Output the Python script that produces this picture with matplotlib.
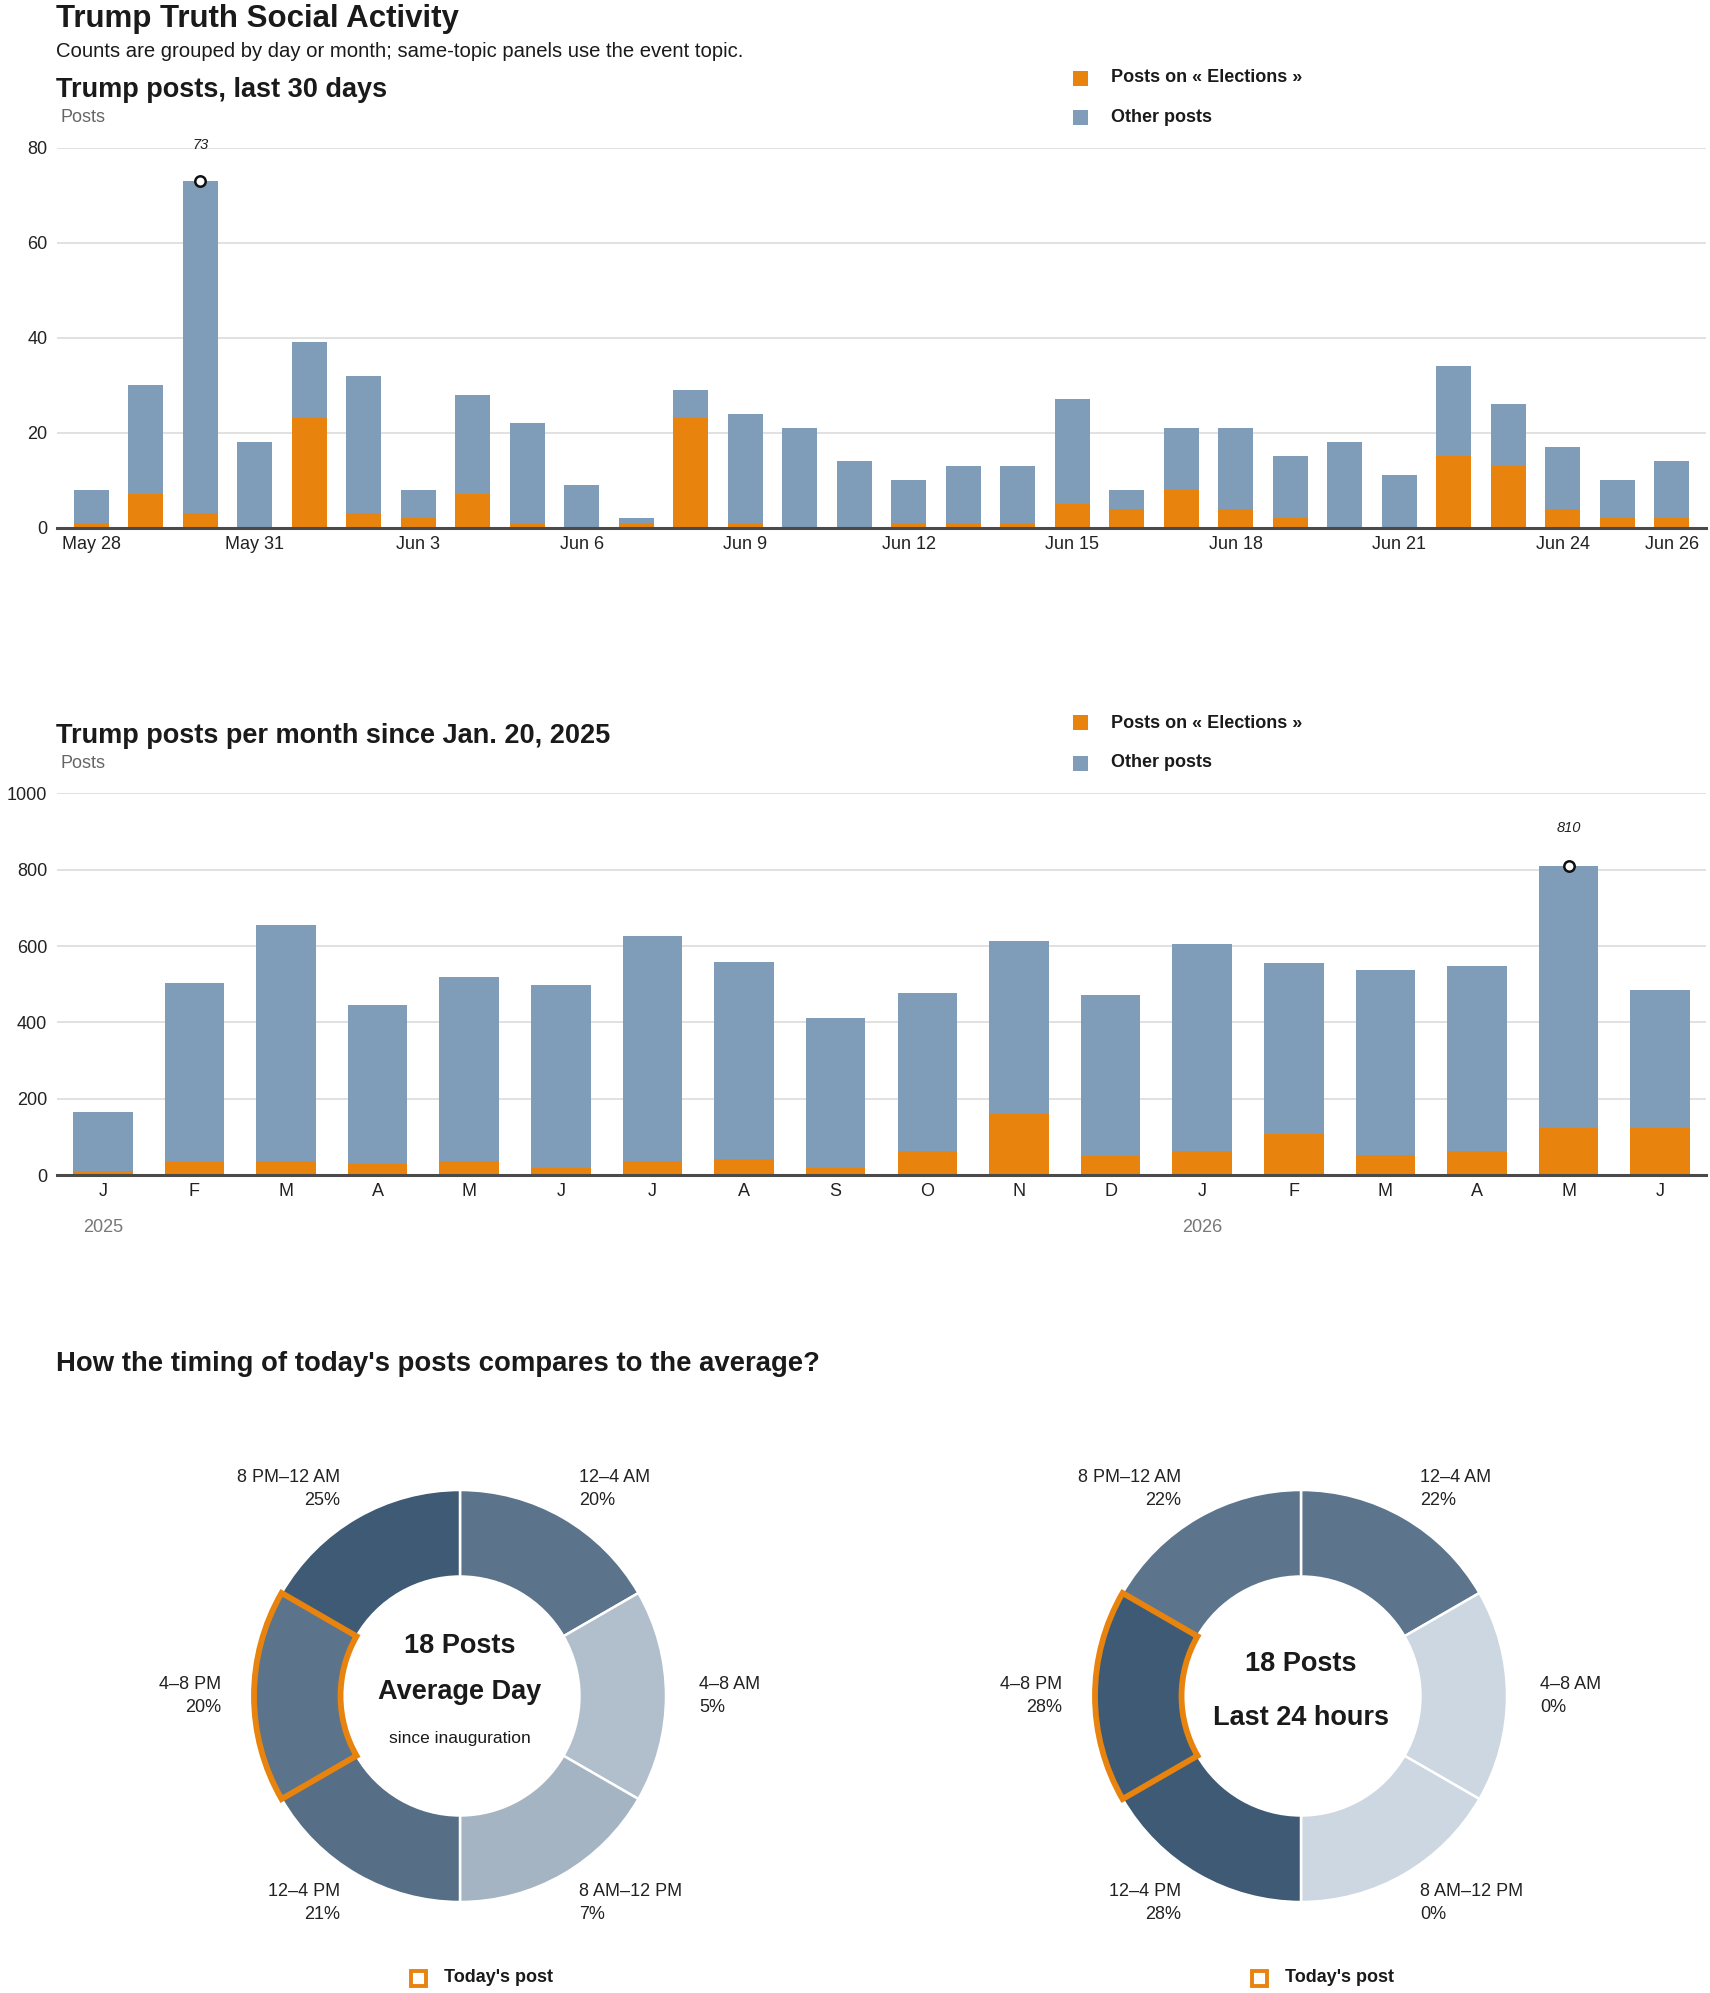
import matplotlib
matplotlib.use('Agg')
import matplotlib.pyplot as plt
from matplotlib.patches import Rectangle, Wedge
import numpy as np

plt.rcParams['font.family'] = ['Liberation Sans', 'DejaVu Sans']

# ---------------- data ----------------
day_labels = ['May 28', 'May 29', 'May 30', 'May 31', 'Jun 1', 'Jun 2', 'Jun 3', 'Jun 4',
              'Jun 5', 'Jun 6', 'Jun 7', 'Jun 8', 'Jun 9', 'Jun 10', 'Jun 11', 'Jun 12',
              'Jun 13', 'Jun 14', 'Jun 15', 'Jun 16', 'Jun 17', 'Jun 18', 'Jun 19', 'Jun 20',
              'Jun 21', 'Jun 22', 'Jun 23', 'Jun 24', 'Jun 25', 'Jun 26']
day_total = [8, 30, 73, 18, 39, 32, 8, 28, 22, 9, 2, 29, 24, 21, 14,
             10, 13, 13, 27, 8, 21, 21, 15, 18, 11, 34, 26, 17, 10, 14]
day_election = [1, 7, 3, 0, 23, 3, 2, 7, 1, 0, 1, 23, 1, 0, 0,
                1, 1, 1, 5, 4, 8, 4, 2, 0, 0, 15, 13, 4, 2, 2]
day_tick_labels = ['May 28', 'May 31', 'Jun 3', 'Jun 6', 'Jun 9', 'Jun 12',
                   'Jun 15', 'Jun 18', 'Jun 21', 'Jun 24', 'Jun 26']

month_labels = ['J', 'F', 'M', 'A', 'M', 'J', 'J', 'A', 'S', 'O', 'N', 'D',
                'J', 'F', 'M', 'A', 'M', 'J']
month_total = [165, 504, 654, 446, 519, 498, 627, 559, 411, 478, 612, 472,
               606, 556, 538, 549, 810, 485]
month_election = [10, 34, 36, 28, 36, 18, 36, 42, 18, 62, 161, 49,
                  62, 108, 53, 62, 123, 123]
year_labels = ['2025', '2026']
year_start_index = [0, 12]

slot_labels = ['12–4 AM', '4–8 AM', '8 AM–12 PM', '12–4 PM', '4–8 PM', '8 PM–12 AM']
slot_hours = [4, 4, 4, 4, 4, 4]
avg_pct = [20, 5, 7, 21, 20, 25]
last24_pct = [22, 0, 0, 28, 28, 22]
today_slot = '4–8 PM'
posts_count = 18

# ---------------- style ----------------
ORANGE = '#e8830e'
BLUE = '#7f9db9'
DARK = '#1a1a1a'
GRID = '#dcdcdc'
W, H = 1710, 1993

fig = plt.figure(figsize=(W / 100, H / 100), dpi=100)
fig.patch.set_facecolor('white')


def fx(x):
    return x / W


def fy(y):
    return 1 - y / H


def ftext(x, y, s, **kw):
    fig.text(fx(x), fy(y), s, **kw)


def fsquare(cx, cy, size, **kw):
    r = Rectangle((fx(cx - size / 2), fy(cy + size / 2)), size / W, size / H,
                  transform=fig.transFigure, **kw)
    fig.add_artist(r)


# ---------------- header ----------------
ftext(56, 27, 'Trump Truth Social Activity', fontsize=22.5, fontweight='bold',
      color=DARK, va='baseline')
ftext(56, 57, 'Counts are grouped by day or month; same-topic panels use the event topic.',
      fontsize=14.6, color=DARK, va='baseline')


def legend(y1, y2):
    fsquare(1080, y1, 15, facecolor=ORANGE, edgecolor='none')
    fsquare(1080, y2, 15, facecolor=BLUE, edgecolor='none')
    ftext(1111, y1, 'Posts on « Elections »', fontsize=13, fontweight='bold',
          color=DARK, va='center')
    ftext(1111, y2, 'Other posts', fontsize=13, fontweight='bold', color=DARK, va='center')


def style_bar_axes(ax):
    for s in ['top', 'right', 'left']:
        ax.spines[s].set_visible(False)
    ax.spines['bottom'].set_color('#4a4a4a')
    ax.spines['bottom'].set_linewidth(2.2)
    ax.spines['bottom'].set_zorder(4)
    ax.yaxis.grid(True, color=GRID, linewidth=1.2)
    ax.set_axisbelow(True)
    ax.tick_params(axis='both', length=0, labelsize=13, labelcolor='#222222')
    ax.tick_params(axis='y', pad=7)
    ax.tick_params(axis='x', pad=6)


# ---------------- chart 1: last 30 days ----------------
ftext(56, 97, 'Trump posts, last 30 days', fontsize=19.5, fontweight='bold',
      color=DARK, va='baseline')
ftext(60, 122, 'Posts', fontsize=13, color='#666666', va='baseline')
legend(78, 117)

ax1 = fig.add_axes([fx(57), fy(527.6), 1649 / W, 380.1 / H])
x1 = np.arange(len(day_labels))
other1 = np.array(day_total) - np.array(day_election)
ax1.bar(x1, day_election, width=0.64, color=ORANGE, zorder=2)
ax1.bar(x1, other1, width=0.64, bottom=day_election, color=BLUE, zorder=2)
ax1.set_ylim(0, 80)
ax1.set_xlim(-0.63, len(day_labels) - 1 + 0.63)
ax1.set_yticks([0, 20, 40, 60, 80])
ax1.set_xticks([day_labels.index(d) for d in day_tick_labels])
ax1.set_xticklabels(day_tick_labels)
style_bar_axes(ax1)
pk = int(np.argmax(day_total))
ax1.plot([pk], [day_total[pk]], 'o', ms=7.5, mfc='white', mec='#111111', mew=1.8,
         zorder=5, clip_on=False)
ax1.annotate(str(day_total[pk]), (pk, day_total[pk]), xytext=(0, 26),
             textcoords='offset points', ha='center', va='center', fontsize=10.5,
             style='italic', color='#222222', annotation_clip=False)

# ---------------- chart 2: per month ----------------
ftext(56, 743, 'Trump posts per month since Jan. 20, 2025', fontsize=19.5,
      fontweight='bold', color=DARK, va='baseline')
ftext(60, 768, 'Posts', fontsize=13, color='#666666', va='baseline')
legend(723, 763)

ax2 = fig.add_axes([fx(57), fy(1175), 1649 / W, 381.6 / H])
x2 = np.arange(len(month_labels))
other2 = np.array(month_total) - np.array(month_election)
ax2.bar(x2, month_election, width=0.65, color=ORANGE, zorder=2)
ax2.bar(x2, other2, width=0.65, bottom=month_election, color=BLUE, zorder=2)
ax2.set_ylim(0, 1000)
ax2.set_xlim(-0.5, len(month_labels) - 0.5)
ax2.set_yticks([0, 200, 400, 600, 800, 1000])
ax2.set_xticks(x2)
ax2.set_xticklabels(month_labels)
style_bar_axes(ax2)
for lbl, idx in zip(year_labels, year_start_index):
    ax2.annotate(lbl, (idx, 0), xytext=(0, -38), textcoords='offset points',
                 ha='center', va='center', fontsize=13, color='#777777',
                 annotation_clip=False)
pk2 = int(np.argmax(month_total))
ax2.plot([pk2], [month_total[pk2]], 'o', ms=7.5, mfc='white', mec='#111111', mew=1.8,
         zorder=5, clip_on=False)
ax2.annotate(str(month_total[pk2]), (pk2, month_total[pk2]), xytext=(0, 27),
             textcoords='offset points', ha='center', va='center', fontsize=10.5,
             style='italic', color='#222222', annotation_clip=False)

# ---------------- donuts ----------------
ftext(56, 1371, "How the timing of today's posts compares to the average?",
      fontsize=19.8, fontweight='bold', color=DARK, va='baseline')

LIGHT = np.array([205, 215, 225]) / 255
DEEP = np.array([63, 90, 117]) / 255
R = 206.0
BOX = 280.0


def shade(p, pmax):
    t = p / pmax if pmax else 0
    return tuple(LIGHT + t * (DEEP - LIGHT))


def donut(cx, cy, pcts, center_lines):
    ax = fig.add_axes([fx(cx - BOX), fy(cy + BOX), 2 * BOX / W, 2 * BOX / H])
    cols = [shade(p, max(pcts)) for p in pcts]
    ax.pie(slot_hours, colors=cols, startangle=90, counterclock=False, radius=1,
           wedgeprops=dict(width=0.42, edgecolor='white', linewidth=1.8))
    lim = BOX / R
    ax.set_xlim(-lim, lim)
    ax.set_ylim(-lim, lim)
    ax.set_aspect('equal')
    ax.axis('off')
    total = sum(slot_hours)
    start = 90.0
    for lab, p, hrs in zip(slot_labels, pcts, slot_hours):
        span = 360.0 * hrs / total
        mid = np.deg2rad(start - span / 2)
        if lab == today_slot:
            ax.add_patch(Wedge((0, 0), 1.0, start - span, start, width=0.42, fill=False,
                               edgecolor=ORANGE, linewidth=4.2, joinstyle='miter',
                               zorder=6))
        px, py = 1.16 * np.cos(mid), 1.16 * np.sin(mid)
        ha = 'left' if np.cos(mid) > 0.01 else 'right'
        ax.text(px, py, f'{lab}\n{p}%', ha=ha, va='center', fontsize=13,
                color='#222222', linespacing=1.4)
        start -= span
    for txt, dy, size, weight in center_lines:
        ax.text(0, dy / R, txt, ha='center', va='center', fontsize=size,
                fontweight=weight, color=DARK)


donut(460, 1696, avg_pct,
      [(f'{posts_count} Posts', 49.6, 19.5, 'bold'),
       ('Average Day', 4, 19.5, 'bold'),
       ('since inauguration', -42, 12.5, 'normal')])
donut(1301, 1696, last24_pct,
      [(f'{posts_count} Posts', 32, 19.5, 'bold'),
       ('Last 24 hours', -22, 19.5, 'bold')])

for sx in (418, 1259):
    fsquare(sx, 1978, 15, facecolor='white', edgecolor=ORANGE, linewidth=2.8)
    ftext(sx + 26, 1977, "Today's post", fontsize=13, fontweight='bold', color=DARK,
          va='center')

fig.savefig('out.png', dpi=100, facecolor='white')
